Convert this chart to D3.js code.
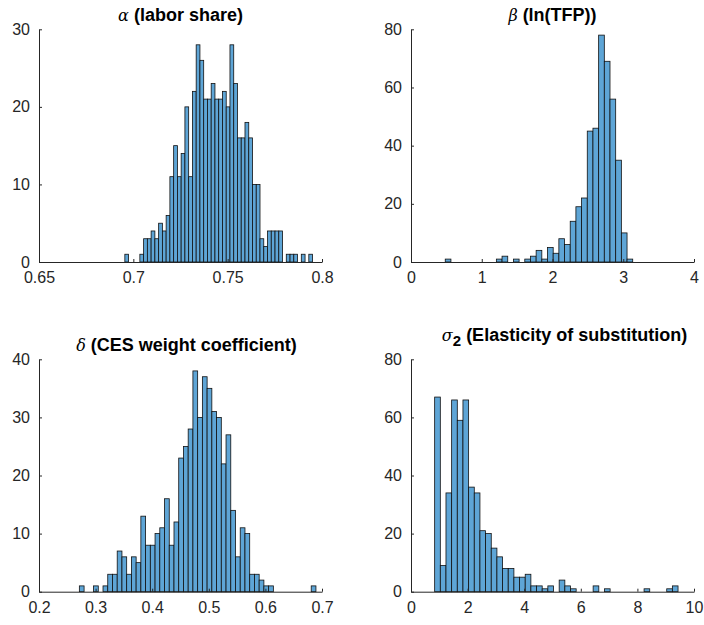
<!DOCTYPE html>
<html><head><meta charset="utf-8">
<script src="https://cdn.jsdelivr.net/npm/d3@7"></script>
<style>
body{margin:0;background:#fff;}
svg{display:block;}
</style></head>
<body>
<svg id="chart" width="704" height="625"></svg>
<script>
// ---- Data ----
// Panel 1: alpha (labor share)
const alphaStart = 0.6955, alphaWidth = 0.00199;
const alphaCounts = [1,0,0,0,1,3,3,4,3,5,4,6,11,15,11,14,20,11,22,28,26,21,21,23,21,21,22,20,28,23,16,16,18,16,10,10,3,2,4,4,4,4,0,1,1,1,0,1,0,1];
const alphaXTicks = [0.65,0.7,0.75,0.8];
const alphaXLabels = ["0.65","0.7","0.75","0.8"];
const alphaYTicks = [0,10,20,30];

// Panel 2: beta (ln(TFP))
const betaStart = 0.484, betaWidth = 0.0803;
const betaCounts = [1,0,0,0,0,0,0,0,0,1,2,0,1,0,1,2,4,1,5,3,8,6,14,19,22,45,46,78,69,56,35,10,1];
const betaXTicks = [0,1,2,3,4];
const betaXLabels = ["0","1","2","3","4"];
const betaYTicks = [0,20,40,60,80];

// Panel 3: delta (CES weight coefficient)
const deltaStart = 0.2713, deltaWidth = 0.00836;
const deltaCounts = [1,0,0,1,0,1,3,3,7,6,3,6,5,13,8,8,10,11,16,8,12,23,25,28,38,30,37,35,31,30,22,27,14,6,11,10,3,3,2,1,1,0,0,0,0,0,0,0,0,1];
const deltaXTicks = [0.2,0.3,0.4,0.5,0.6,0.7];
const deltaXLabels = ["0.2","0.3","0.4","0.5","0.6","0.7"];
const deltaYTicks = [0,10,20,30,40];

// Panel 4: sigma_2 (Elasticity of substitution)
const sigmaStart = 0.836, sigmaWidth = 0.2;
const sigmaCounts = [67,9,34,66,59,66,36,34,21,20,15,12,8,8,5,5,6,2,2,1,2,0,4,2,1,0,0,0,2,0,1,0,0,0,0,0,0,1,0,0,0,1,2];
const sigmaXTicks = [0,2,4,6,8,10];
const sigmaXLabels = ["0","2","4","6","8","10"];
const sigmaYTicks = [0,20,40,60,80];

// ---- Drawing ----
const svg = d3.select("#chart");
const axisColor = "#262626";
const barFill = "rgb(94,165,214)";
const tickFont = "Liberation Sans, Arial, Helvetica, sans-serif";

function panel(cfg){
  const g = svg.append("g");
  const x = d3.scaleLinear().domain(cfg.xDomain).range([cfg.left, cfg.right]);
  const y = d3.scaleLinear().domain(cfg.yDomain).range([cfg.bottom, cfg.top]);
  const bins = cfg.counts.map((c,i)=>({x0: cfg.start + i*cfg.width, x1: cfg.start + (i+1)*cfg.width, c}));

  g.selectAll("rect.bar").data(bins.filter(b=>b.c>0)).join("rect")
    .attr("class","bar")
    .attr("x", d=>x(d.x0)).attr("width", d=>x(d.x1)-x(d.x0))
    .attr("y", d=>y(d.c)).attr("height", d=>y(0)-y(d.c))
    .attr("fill", barFill).attr("stroke","#111").attr("stroke-width",0.8);

  // x axis
  const xAxis = d3.axisBottom(x).tickValues(cfg.xTicks)
    .tickFormat((d,i)=>cfg.xLabels[i]).tickSizeInner(-3).tickSizeOuter(0).tickPadding(10);
  const gx = g.append("g").attr("transform",`translate(0,${cfg.bottom})`).call(xAxis);
  // y axis
  const yAxis = d3.axisLeft(y).tickValues(cfg.yTicks).tickSizeInner(-3).tickSizeOuter(0).tickPadding(9);
  const gy = g.append("g").attr("transform",`translate(${cfg.left},0)`).call(yAxis);
  [gx,gy].forEach(a=>{
    a.select(".domain").attr("stroke",axisColor).attr("stroke-width",1);
    a.selectAll(".tick line").attr("stroke",axisColor);
    a.selectAll(".tick text").attr("fill",axisColor).style("font-family",tickFont).style("font-size","16px");
  });

  // title
  const t = g.append("text").attr("x",(cfg.left+cfg.right)/2 + cfg.titleDx).attr("y",cfg.titleY)
    .attr("text-anchor","middle").style("font-family",tickFont).style("font-size","18px").attr("fill","#000");
  t.append("tspan").text(cfg.greek).style("font-family","DejaVu Serif, serif").style("font-style","italic").style("font-weight","normal").style("font-size","16px");
  if(cfg.sub){
    t.append("tspan").text(cfg.sub).attr("dy",5).style("font-weight","bold").style("font-size","15px");
    t.append("tspan").text(" " + cfg.title).attr("dy",-5).style("font-weight","bold");
  } else {
    t.append("tspan").text(" " + cfg.title).style("font-weight","bold");
  }
}

panel({left:39,right:322,top:29.3,bottom:262,xDomain:[0.65,0.8],yDomain:[0,30],
  start:alphaStart,width:alphaWidth,counts:alphaCounts,xTicks:alphaXTicks,xLabels:alphaXLabels,yTicks:alphaYTicks,
  greek:"α",title:"(labor share)",titleY:21,titleDx:0});
panel({left:411,right:694,top:29.3,bottom:262,xDomain:[0,4],yDomain:[0,80],
  start:betaStart,width:betaWidth,counts:betaCounts,xTicks:betaXTicks,xLabels:betaXLabels,yTicks:betaYTicks,
  greek:"β",title:"(ln(TFP))",titleY:21,titleDx:0});
panel({left:39,right:322,top:359.3,bottom:591.7,xDomain:[0.2,0.7],yDomain:[0,40],
  start:deltaStart,width:deltaWidth,counts:deltaCounts,xTicks:deltaXTicks,xLabels:deltaXLabels,yTicks:deltaYTicks,
  greek:"δ",title:"(CES weight coefficient)",titleY:351,titleDx:6});
panel({left:411,right:694,top:359.3,bottom:591.7,xDomain:[0,10],yDomain:[0,80],
  start:sigmaStart,width:sigmaWidth,counts:sigmaCounts,xTicks:sigmaXTicks,xLabels:sigmaXLabels,yTicks:sigmaYTicks,
  greek:"σ",sub:"2",title:"(Elasticity of substitution)",titleY:341,titleDx:12});
</script>
</body></html>
